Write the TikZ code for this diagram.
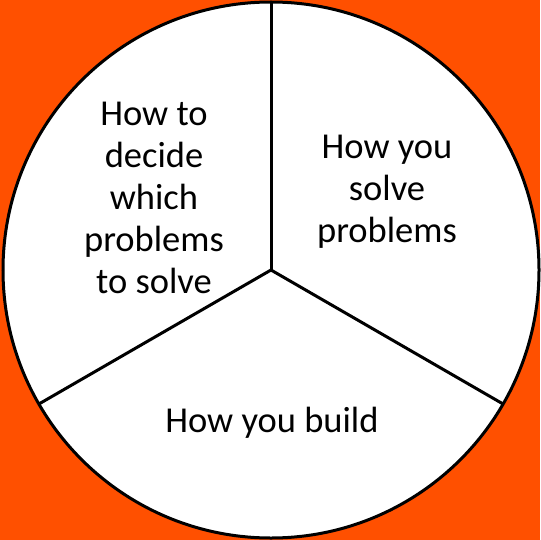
\documentclass[tikz,border=0pt]{standalone}
\usepackage{fontspec}
\setmainfont{Carlito}
\usepackage{tikz}
\usetikzlibrary{calc}
\pgfdeclarelayer{edgelayer}
\pgfdeclarelayer{nodelayer}
\pgfsetlayers{edgelayer,nodelayer,main}
\definecolor{bgorange}{HTML}{FF5000}
\tikzstyle{none}=[inner sep=0pt]
\tikzstyle{sector_text}=[inner sep=0pt,align=center,font=\fontsize{36.5pt}{42pt}\selectfont]
\tikzstyle{divider}=[draw=black,line width=3pt]

\begin{document}
\begin{tikzpicture}[x=1pt,y=-1pt]
	\useasboundingbox (0,0) rectangle (540,540);
	\begin{pgfonlayer}{nodelayer}
		\coordinate (0) at (271, 270);
		\coordinate (1) at (271, 2);
		\coordinate (2) at ($(0)+(150:268)$);
		\coordinate (3) at ($(0)+(30:268)$);
		\node [style={sector_text}] (4) at (154, 198) {How to\\decide\\which\\problems\\to solve};
		\node [style={sector_text}] (5) at (387, 192) {How you\\solve\\problems};
		\node [style={sector_text}] (6) at (272, 423) {How you build};
	\end{pgfonlayer}
	\begin{pgfonlayer}{edgelayer}
		\fill [bgorange] (0,0) rectangle (540,540);
		\draw [style=divider, fill=white] (0) circle (268);
		\draw [style=divider] (0) to (1);
		\draw [style=divider] (0) to (2);
		\draw [style=divider] (0) to (3);
	\end{pgfonlayer}
\end{tikzpicture}
\end{document}
